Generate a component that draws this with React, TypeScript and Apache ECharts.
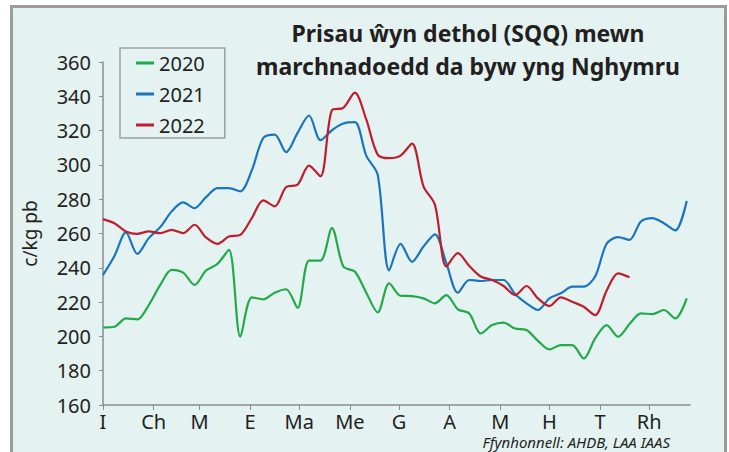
import React, { useEffect, useRef } from 'react';
import * as echarts from 'echarts';

// Month start positions (day of year) and Welsh month labels
const monthDays = [0, 31, 59, 90, 120, 151, 181, 212, 243, 273, 304, 334];
const monthLabels = ['I', 'Ch', 'M', 'E', 'Ma', 'Me', 'G', 'A', 'M', 'H', 'T', 'Rh'];

const seriesNames = ['2020', '2021', '2022'];
const seriesColors = ['#22aa4a', '#1b75bc', '#be1e2d'];

// Weekly SQQ prices (c/kg pb), week 1..52
const prices2020 = [205.2, 205.6, 210.5, 209.9, 218.3, 230, 238.8, 237.2, 230, 238.4, 242.3, 250.4, 199.8, 222.8, 221.6, 225.5, 227.5, 216.7, 244.2, 244.2, 263.1, 240.7, 237.8, 225.5, 214, 231, 223.7, 223.5, 222.2, 219.3, 224.1, 215.8, 213.4, 201.7, 206.6, 208, 204.6, 203.7, 197.4, 192.4, 194.9, 194.9, 187.1, 198.8, 206.6, 199.8, 207.2, 213.4, 213, 215.4, 210.5, 222.2];
const prices2021 = [235.8, 246.9, 260.6, 248.1, 257.3, 263.7, 272.9, 278.1, 274.8, 281.2, 286.5, 286.5, 284.6, 296.8, 315.7, 317.7, 307.4, 318.7, 328.8, 314.4, 320.2, 324.1, 324.9, 305.4, 294.3, 238.5, 254, 243.5, 252.4, 259.5, 242.7, 225.5, 232.9, 232.3, 232.9, 232.9, 224.7, 219.3, 215.4, 222.2, 225.1, 229, 229, 234.9, 254, 257.9, 256.3, 267, 269, 266, 261.8, 279];
const prices2022 = [268.4, 266, 261.2, 259.8, 261.2, 260.2, 262.1, 260.2, 265.1, 257.7, 254, 258.2, 259.2, 269, 279.3, 275.8, 287.1, 288.5, 299.6, 293.3, 331.9, 333.3, 342.1, 326.5, 306, 303.9, 305.4, 312.4, 287.5, 276.8, 240.7, 248.5, 241.1, 234.9, 232.9, 229.4, 224.1, 229.4, 222.2, 217.7, 222.8, 220.2, 217.3, 212.4, 226.7, 236.8, 234.5];

const yMin = 160;
const yMax = 360;
const yStep = 20;
const xMaxDay = 359;
const DAYS_PER_WEEK = 7;

const titleText = 'Prisau ŵyn dethol (SQQ) mewn\nmarchnadoedd da byw yng Nghymru';
const yAxisName = 'c/kg pb';
const sourceText = 'Ffynhonnell: AHDB, LAA IAAS';

const FONT = '"Noto Sans", "Open Sans", sans-serif';

export default function App() {
  const ref = useRef<HTMLDivElement>(null);

  useEffect(() => {
    if (!ref.current) return;
    const chart = echarts.init(ref.current, undefined, { renderer: 'svg' });
    const allSeries = [prices2020, prices2021, prices2022];

    chart.setOption({
      animation: false,
      backgroundColor: '#ffffff',
      textStyle: { fontFamily: FONT, color: '#231f20' },
      title: {
        text: titleText,
        left: 468,
        top: 16,
        textAlign: 'center',
        padding: 0,
        textStyle: {
          fontFamily: FONT,
          fontSize: 23,
          fontWeight: 'bold',
          color: '#231f20',
          lineHeight: 33,
        },
      },
      legend: {
        data: seriesNames,
        orient: 'vertical',
        left: 120,
        top: 48,
        icon: 'rect',
        itemWidth: 18,
        itemHeight: 3,
        itemGap: 11,
        padding: [5, 20, 3, 16],
        borderColor: '#a0a0a0',
        borderWidth: 1.5,
        textStyle: { fontFamily: FONT, fontSize: 20, color: '#231f20' },
      },
      grid: { left: 103, top: 62, right: 39, bottom: 47, containLabel: false },
      xAxis: {
        type: 'value',
        min: 0,
        max: xMaxDay,
        splitLine: { show: false },
        axisLine: { show: true, lineStyle: { color: '#8c8c8c', width: 1.5 } },
        axisTick: {
          show: true,
          length: 5,
          customValues: monthDays,
          lineStyle: { color: '#8c8c8c', width: 1 },
        },
        axisLabel: {
          customValues: monthDays,
          margin: 6,
          fontSize: 20,
          lineHeight: 20,
          fontFamily: FONT,
          color: '#231f20',
          formatter: (v: number) => {
            const idx = monthDays.indexOf(Math.round(v));
            return idx >= 0 ? monthLabels[idx] : '';
          },
        },
      },
      yAxis: {
        type: 'value',
        min: yMin,
        max: yMax,
        interval: yStep,
        name: yAxisName,
        nameLocation: 'middle',
        nameGap: 64,
        nameTextStyle: { fontFamily: FONT, fontSize: 19, color: '#231f20' },
        splitLine: { show: false },
        axisLine: { show: true, lineStyle: { color: '#8c8c8c', width: 1.5 } },
        axisTick: { show: true, length: 4, lineStyle: { color: '#8c8c8c' } },
        axisLabel: { margin: 12, fontSize: 20, fontFamily: FONT, color: '#231f20' },
      },
      series: allSeries.map((vals, s) => ({
        name: seriesNames[s],
        type: 'line',
        smooth: 0.3,
        showSymbol: false,
        symbol: 'none',
        color: seriesColors[s],
        lineStyle: { color: seriesColors[s], width: 2.2 },
        data: vals.map((v, i) => [i * DAYS_PER_WEEK, v]),
      })),
      graphic: [
        {
          type: 'rect',
          z: -100,
          silent: true,
          shape: { x: 11.5, y: 6.5, width: 714, height: 470 },
          style: { fill: '#e4f2f1', stroke: '#9b9b9b', lineWidth: 3 },
        },
        {
          type: 'text',
          x: 670,
          y: 442,
          style: {
            text: sourceText,
            fontFamily: FONT,
            fontStyle: 'italic',
            fontSize: 15,
            fill: '#231f20',
            align: 'right',
            verticalAlign: 'middle',
          },
        },
      ],
    });

    return () => chart.dispose();
  }, []);

  return (
    <div
      ref={ref}
      style={{ position: 'fixed', left: 0, top: 0, width: 729, height: 452 }}
    />
  );
}
